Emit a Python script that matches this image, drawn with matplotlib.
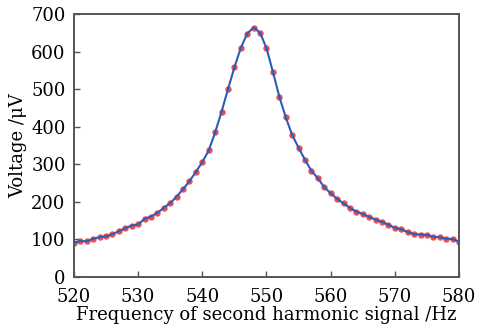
import numpy as np
import matplotlib
matplotlib.use("Agg")
import matplotlib.pyplot as plt
from matplotlib.ticker import MultipleLocator

# data
# ----------
freq = np.arange(520, 581)
voltage = [91, 96, 95, 102, 106, 108, 114, 122, 130, 137,
           140, 155, 161, 171, 184, 197, 214, 234, 255, 280,
           306, 337, 385, 440, 500, 558, 610, 648, 664, 650,
           609, 546, 480, 425, 378, 344, 312, 283, 263, 239,
           223, 208, 196, 184, 174, 168, 160, 153, 147, 139,
           131, 127, 120, 114, 113, 112, 107, 106, 102, 101,
           94]

# plot settings
# ----------
plt.rcParams["font.family"] = "DejaVu Serif"
plt.rcParams["mathtext.fontset"] = "dejavuserif"

fig = plt.figure(figsize=(4.88, 3.31), dpi=100)
ax = fig.add_axes([0.1516, 0.1631, 0.789, 0.7946])

color_spine = "#555555"

ax.plot(freq, voltage, "o", color="#ec3b3e", ms=4.6, mew=0, alpha=0.9, zorder=2)
ax.plot(freq, voltage, "-", color="#2c5db5", lw=1.5, zorder=3)

ax.set_xlim(520, 580)
ax.set_ylim(0, 700)
ax.xaxis.set_major_locator(MultipleLocator(10))
ax.yaxis.set_major_locator(MultipleLocator(100))
ax.tick_params(direction="in", length=4, width=1, color=color_spine,
               labelsize=13, top=False, right=False)
ax.tick_params(axis="x", pad=8)
ax.tick_params(axis="y", pad=6)
for sp in ax.spines.values():
    sp.set_color(color_spine)
    sp.set_linewidth(1.4)

ax.set_xlabel("Frequency of second harmonic signal /Hz", fontsize=13, labelpad=0)
ax.set_ylabel("Voltage /\u03bcV", fontsize=13, labelpad=3)

# save
# ----------
fig.savefig("out.png", dpi=100)
